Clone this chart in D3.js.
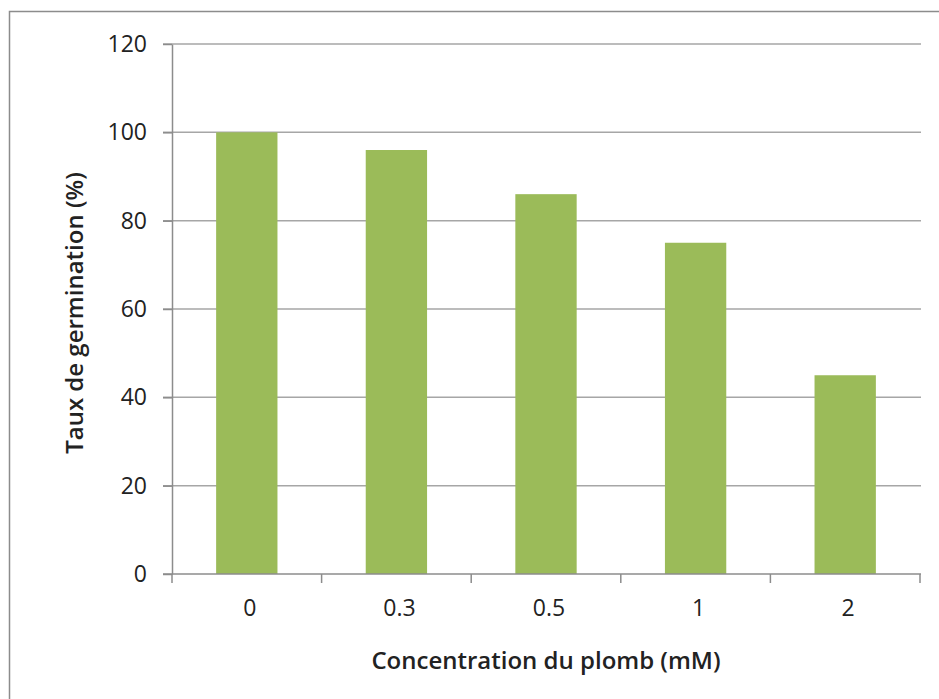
<!DOCTYPE html>
<html><head><meta charset="utf-8">
<script src="https://cdn.jsdelivr.net/npm/d3@7/dist/d3.min.js"></script>
<style>body{margin:0;background:#fff}svg{display:block}</style>
</head><body>
<script>
const categories = ["0", "0.3", "0.5", "1", "2"];
const values = [100, 96, 86, 75, 45];
const yTicks = [0, 20, 40, 60, 80, 100, 120];
const xTitle = "Concentration du plomb (mM)";
const yTitle = "Taux de germination (%)";

const W = 939, H = 699;
const m = {left: 172, right: 939 - 920, top: 44, bottom: 699 - 574};
const svg = d3.select("body").append("svg").attr("width", W).attr("height", H);

svg.append("rect").attr("x", 9.5).attr("y", 11.5).attr("width", 1000).attr("height", 1000)
  .attr("fill", "none").attr("stroke", "#8c8c8c").attr("stroke-width", 1.5);

const x = d3.scaleBand().domain(categories).range([m.left, W - m.right]).paddingInner(0.59).paddingOuter(0.295);
const y = d3.scaleLinear().domain([0, 120]).range([H - m.bottom, m.top]);

const font = "'Open Sans', sans-serif";

// gridlines
svg.append("g").selectAll("line").data(yTicks.filter(d => d > 0)).join("line")
  .attr("x1", m.left - 9).attr("x2", W - m.right + 1)
  .attr("y1", d => y(d)).attr("y2", d => y(d))
  .attr("stroke", "#a6a6a6").attr("stroke-width", 1.5);

// bars
svg.append("g").selectAll("rect").data(values).join("rect")
  .attr("x", (d, i) => x(categories[i])).attr("width", x.bandwidth())
  .attr("y", d => y(d)).attr("height", d => y(0) - y(d))
  .attr("fill", "#9bbb59");

// y axis
const ya = svg.append("g").attr("transform", `translate(${m.left},0)`)
  .call(d3.axisLeft(y).tickValues(yTicks).tickSize(9).tickSizeOuter(0).tickPadding(16));
ya.select(".domain").attr("stroke", "#8c8c8c").attr("stroke-width", 1.5);
ya.selectAll(".tick line").attr("stroke", "#8c8c8c").attr("stroke-width", 1.5);
ya.selectAll("text").attr("font-family", font).attr("font-size", 23).attr("fill", "#222");

// x axis
const xa = svg.append("g").attr("transform", `translate(0,${y(0)})`)
  .call(d3.axisBottom(x).tickSize(0).tickPadding(26));
xa.select(".domain").remove();
xa.selectAll("text").attr("font-family", font).attr("font-size", 23).attr("fill", "#222")
  .attr("dx", 3);
// x boundary ticks
const bounds = d3.range(categories.length + 1).map(i => m.left + i * x.step());
svg.append("g").selectAll("line").data(bounds).join("line")
  .attr("x1", d => d).attr("x2", d => d).attr("y1", y(0)).attr("y2", y(0) + 9)
  .attr("stroke", "#8c8c8c").attr("stroke-width", 1.5);
svg.append("line").attr("x1", m.left - 9).attr("x2", W - m.right + 1).attr("y1", y(0)).attr("y2", y(0))
  .attr("stroke", "#8c8c8c").attr("stroke-width", 1.5);

// titles
svg.append("text").attr("x", (m.left + W - m.right) / 2).attr("y", 669)
  .attr("text-anchor", "middle").attr("font-family", font).attr("font-weight", 600)
  .attr("font-size", 24).attr("fill", "#222").text(xTitle);
svg.append("text").attr("transform", `translate(83,313) rotate(-90)`)
  .attr("text-anchor", "middle").attr("font-family", font).attr("font-weight", 600)
  .attr("font-size", 24).attr("fill", "#222").text(yTitle);
</script>
</body></html>
